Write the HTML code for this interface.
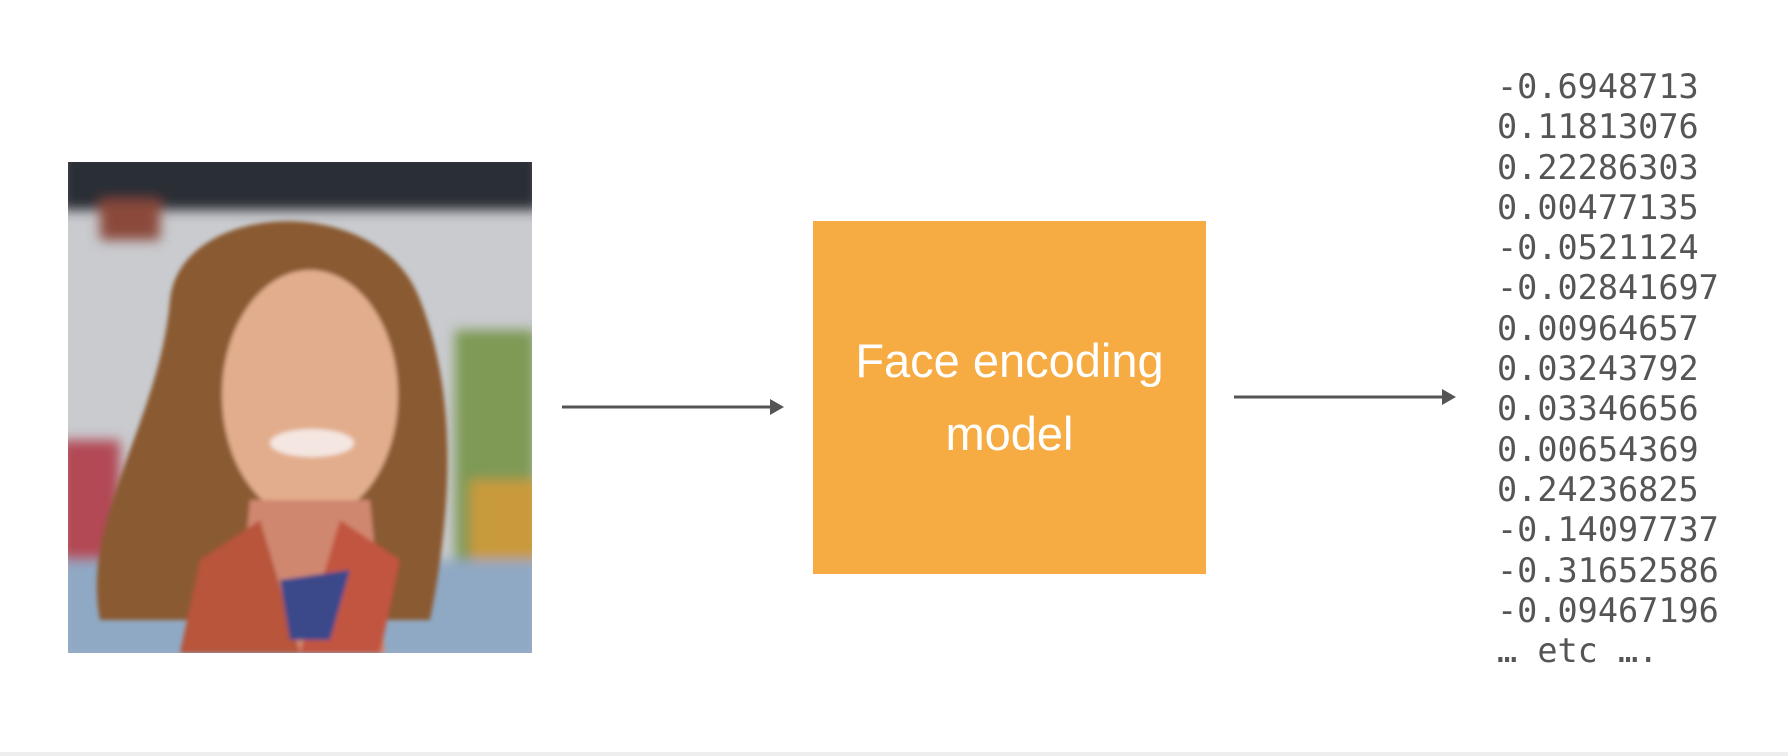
<!DOCTYPE html>
<html><head><meta charset="utf-8"><style>
html,body{margin:0;padding:0;width:1788px;height:756px;background:#fff;overflow:hidden;position:relative}
.box{position:absolute;left:813px;top:221px;width:393px;height:353px;background:#F7AB43}
.box div{position:absolute;left:0;width:100%;text-align:center;color:#fff;font-family:"Liberation Sans",sans-serif;font-size:47px}
.nums{position:absolute;left:1497px;top:67px;font-family:"DejaVu Sans Mono",monospace;font-size:33.5px;line-height:40.3px;color:#555;white-space:pre}
.bot{position:absolute;left:0;top:752px;width:1788px;height:4px;background:#eee}
</style></head><body>
<svg width="1788" height="756" style="position:absolute;left:0;top:0">
<defs>
<clipPath id="c"><rect x="68" y="162" width="464" height="491"/></clipPath>
<filter id="b"><feGaussianBlur stdDeviation="6"/></filter>
<filter id="b2"><feGaussianBlur stdDeviation="2"/></filter>
</defs>
<g clip-path="url(#c)">
<rect x="68" y="162" width="464" height="491" fill="#c9cbcf"/>
<g filter="url(#b)">
<rect x="60" y="150" width="480" height="60" fill="#2c2f35"/>
<rect x="100" y="200" width="60" height="40" fill="#8a4a3a"/>
<rect x="60" y="440" width="60" height="120" fill="#b24a55"/>
<rect x="455" y="330" width="80" height="320" fill="#7e9a55"/>
<rect x="470" y="480" width="70" height="120" fill="#c99a3a"/>
<rect x="60" y="560" width="480" height="100" fill="#8fa9c4"/>
</g>
<g filter="url(#b2)">
<path d="M170 300 C180 200 380 190 420 300 C460 400 450 520 430 620 L100 620 C80 520 160 420 170 300Z" fill="#8a5a32"/>
<ellipse cx="310" cy="395" rx="88" ry="125" fill="#e2ad8c"/>
<path d="M250 500 L370 500 L385 653 L235 653Z" fill="#d08770"/>
<path d="M200 560 L260 520 L300 653 L180 653Z" fill="#b8553a"/>
<path d="M340 520 L400 560 L380 653 L300 653Z" fill="#c2553f"/>
<path d="M280 580 L350 570 L330 640 L290 640Z" fill="#3a4a8a"/>
<ellipse cx="312" cy="443" rx="42" ry="14" fill="#f4e6e0"/>
</g>
</g>
<g stroke="#555" stroke-width="3" fill="#555">
<line x1="562" y1="407" x2="772" y2="407"/>
<polygon points="770,399 784,407 770,415" stroke="none"/>
<line x1="1234" y1="397" x2="1444" y2="397"/>
<polygon points="1442,389 1456,397 1442,405" stroke="none"/>
</g>
</svg>
<div class="box"><div style="top:112px">Face encoding</div><div style="top:185px">model</div></div>
<div class="nums">-0.6948713
0.11813076
0.22286303
0.00477135
-0.0521124
-0.02841697
0.00964657
0.03243792
0.03346656
0.00654369
0.24236825
-0.14097737
-0.31652586
-0.09467196
… etc ….</div>
<div class="bot"></div>
</body></html>
